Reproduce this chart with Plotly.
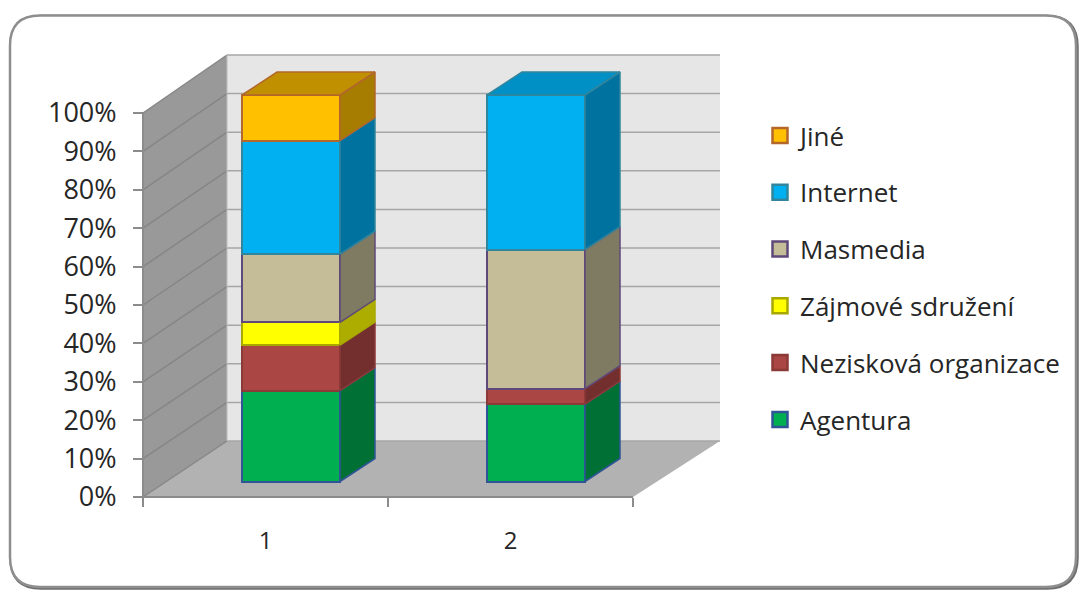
import plotly.graph_objects as go

categories = [1, 2]
series_names = ["Agentura", "Nezisková organizace", "Zájmové sdružení", "Masmedia", "Internet", "Jiné"]
agentura = [23.5, 20]
neziskova = [11.8, 4]
zajmove = [5.9, 0]
masmedia = [17.6, 36]
internet = [29.4, 40]
jine = [11.8, 0]
y_ticks = [0, 10, 20, 30, 40, 50, 60, 70, 80, 90, 100]
y_labels = ["0%", "10%", "20%", "30%", "40%", "50%", "60%", "70%", "80%", "90%", "100%"]
x_bounds = [0.5, 1.5, 2.5]

series_values = [agentura, neziskova, zajmove, masmedia, internet, jine]
front = ["#00B050", "#AA4643", "#FFFF00", "#C4BD97", "#00B0F0", "#FFC000"]
side = ["#007035", "#722F2D", "#ADAD00", "#7F7B62", "#00729F", "#A67D00"]
top = ["#008A40", "#8A3836", "#CCCC00", "#9C9777", "#0090C5", "#C09000"]
edge = ["#2F5597", "#8C3A38", "#A8A800", "#5F497A", "#31859C", "#B2672B"]

W, H = 1081, 591
FONT = "Open Sans"
TXT = "#262626"

# main axes: walls and tick marks
XS, YS = 245.0, 3.84
X1_PX, Y0_PX = 265.5, 497.0
# bar axes: same chart, seen one step into the depth
BXS, BYS = 245.0, 3.865
BX1_PX, BY0_PX = 291.0, 481.5
WALL_DX, WALL_DY = 84 / XS, 56 / YS
BACK_EXTRA = 3 / XS
BACK_SCALE = 386 / 384
BAR_DX, BAR_DY = 35 / BXS, 23 / BYS
BAR_W = 98 / BXS

fig = go.Figure()


def poly(xs, ys, color, xa="x", ya="y", line=None, lw=0):
    fig.add_trace(go.Scatter(
        x=xs + xs[:1], y=ys + ys[:1], xaxis=xa, yaxis=ya, mode="lines", fill="toself",
        fillcolor=color, line=dict(color=line or color, width=lw), showlegend=False, hoverinfo="skip"))


def seg(xs, ys, color, width):
    fig.add_trace(go.Scatter(x=xs, y=ys, mode="lines", line=dict(color=color, width=width),
                             showlegend=False, hoverinfo="skip"))


xl, xr = x_bounds[0], x_bounds[-1]
bl, br = xl + WALL_DX, xr + WALL_DX + BACK_EXTRA
back = lambda t: WALL_DY + t * BACK_SCALE
poly([bl, br, br, bl], [back(0), back(0), back(100), back(100)], "#E6E6E6")
poly([xl, bl, bl, xl], [0, back(0), back(100), 100], "#999999")
poly([xl, bl, br, xr], [0, back(0), back(0), 0], "#B2B2B2")
for t in y_ticks:
    seg([xl, bl], [t, back(t)], "#868686", 1.5)
    seg([bl, br], [back(t), back(t)], "#A6A6A6", 1.5)
seg([bl, bl], [back(0), back(100)], "#BDBDBD", 1)
seg([xl, xl], [0, 100], "#8C8C8C", 2)
seg([xl, xr], [0, 0], "#8C8C8C", 2)

for name, vals, f, e in zip(series_names, series_values, front, edge):
    fig.add_trace(go.Bar(
        x=categories, y=[v if v > 0 else None for v in vals], name=name, xaxis="x2", yaxis="y2",
        width=BAR_W, showlegend=False, hoverinfo="skip",
        marker=dict(color=f, line=dict(color=e, width=2))))

for i, c in enumerate(categories):
    base = 0.0
    last = None
    x0, x1 = c - BAR_W / 2, c + BAR_W / 2
    for vals, s, e, tp in zip(series_values, side, edge, top):
        v = vals[i]
        if v <= 0:
            continue
        poly([x1, x1 + BAR_DX, x1 + BAR_DX, x1], [base, base + BAR_DY, base + v + BAR_DY, base + v], s, "x2", "y2", e, 1.5)
        base += v
        last = (tp, e)
    poly([x0, x1, x1 + BAR_DX, x0 + BAR_DX], [base, base, base + BAR_DY, base + BAR_DY], last[0], "x2", "y2", last[1], 1.5)

# legend entries, top to bottom as in the chart
for name, f, e in reversed(list(zip(series_names, front, edge))):
    fig.add_trace(go.Scatter(
        x=[None], y=[None], mode="markers", name=name, legendgroup=name, hoverinfo="skip",
        marker=dict(symbol="square", size=15, color=f, line=dict(color=e, width=2.5))))


def frame_path(l, t, r, b, rad):
    fx = lambda v: v / W
    fy = lambda v: 1 - v / H
    return (f"M{fx(l + rad)},{fy(t)} L{fx(r - rad)},{fy(t)} Q{fx(r)},{fy(t)} {fx(r)},{fy(t + rad)} "
            f"L{fx(r)},{fy(b - rad)} Q{fx(r)},{fy(b)} {fx(r - rad)},{fy(b)} L{fx(l + rad)},{fy(b)} "
            f"Q{fx(l)},{fy(b)} {fx(l)},{fy(b - rad)} L{fx(l)},{fy(t + rad)} Q{fx(l)},{fy(t)} {fx(l + rad)},{fy(t)} Z")


fig.update_layout(
    width=W, height=H, margin=dict(l=0, r=0, t=0, b=0), barmode="stack", bargap=0,
    paper_bgcolor="white", plot_bgcolor="rgba(0,0,0,0)",
    font=dict(family=FONT, size=25, color=TXT),
    shapes=[
        dict(type="path", xref="paper", yref="paper", path=frame_path(11, 16.5, 1077, 588, 30),
             line=dict(color="#6E6E6E", width=3.5), fillcolor="white", layer="below"),
        dict(type="path", xref="paper", yref="paper", path=frame_path(10, 15.5, 1076, 587, 30),
             line=dict(color="#8E8E8E", width=2.5), fillcolor="white", layer="below"),
    ],
    xaxis=dict(range=[1 - X1_PX / XS, 1 + (W - X1_PX) / XS], domain=[0, 1], anchor="free",
               position=(H - Y0_PX) / H, tickmode="array", tickvals=categories, ticktext=[str(c) for c in categories],
               ticks="", showgrid=False, zeroline=False, showline=False, ticklabelstandoff=27,
               tickfont=dict(family=FONT, size=24, color=TXT),
               minor=dict(tickmode="array", tickvals=x_bounds, ticks="outside", ticklen=9, tickwidth=2, tickcolor="#8C8C8C", showgrid=False)),
    yaxis=dict(range=[-(H - Y0_PX) / YS, Y0_PX / YS], domain=[0, 1], anchor="free", position=(xl - (1 - X1_PX / XS)) * XS / W,
               tickmode="array", tickvals=y_ticks, ticktext=y_labels, ticks="outside", ticklen=10, tickwidth=2,
               tickcolor="#8C8C8C", showgrid=False, zeroline=False, showline=False, ticklabelstandoff=11,
               tickfont=dict(family=FONT, size=27, color=TXT)),
    xaxis2=dict(range=[1 - BX1_PX / BXS, 1 + (W - BX1_PX) / BXS], domain=[0, 1], overlaying="x", anchor="y2", visible=False),
    yaxis2=dict(range=[-(H - BY0_PX) / BYS, BY0_PX / BYS], domain=[0, 1], overlaying="y", anchor="x2", visible=False),
    legend=dict(x=760 / W, y=1 - 112 / H, xanchor="left", yanchor="top", traceorder="grouped",
                tracegroupgap=20, bgcolor="rgba(0,0,0,0)", font=dict(family=FONT, size=26, color=TXT)),
)

fig.write_html("out.html", config={"displayModeBar": False},
               post_script="document.body.style.margin='0';document.body.style.overflow='hidden';")
